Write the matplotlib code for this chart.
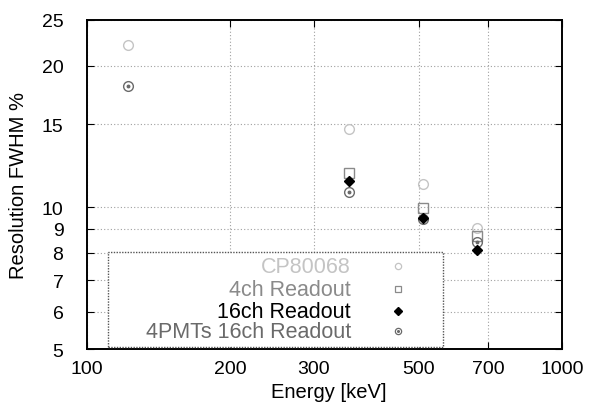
import numpy as np
import matplotlib
matplotlib.use("Agg")
import matplotlib.pyplot as plt
from matplotlib.patches import Rectangle

plt.rcParams['font.family'] = ['Liberation Sans', 'DejaVu Sans']

# Photopeak energies [keV] and measured resolutions [% FWHM]
energy_cp = [122, 356, 511, 662]
res_cp = [22.1, 14.7, 11.2, 9.05]

energy_4ch = [356, 511, 662]
res_4ch = [11.8, 9.95, 8.7]

energy_16ch = [356, 511, 662]
res_16ch = [11.4, 9.5, 8.1]

energy_4pmt = [122, 356, 511, 662]
res_4pmt = [18.1, 10.8, 9.45, 8.43]

series_labels = ["CP80068", "4ch Readout", "16ch Readout", "4PMTs 16ch Readout"]

x_ticks = [100, 200, 300, 500, 700, 1000]
y_ticks = [5, 6, 7, 8, 9, 10, 15, 20, 25]

col_cp = "#c4c4c4"
col_4ch = "#8a8a8a"
col_16ch = "#000000"
col_4pmt = "#6a6a6a"

fig = plt.figure(figsize=(5.89, 4.10), dpi=100)
ax = fig.add_axes([0.1477, 0.1463, 0.954 - 0.1477, 0.9488 - 0.1463])

ax.set_xscale("log")
ax.set_yscale("log")
ax.set_xlim(100, 1000)
ax.set_ylim(5, 25)

ax.set_xticks(x_ticks)
ax.set_xticklabels([str(t) for t in x_ticks])
ax.set_yticks(y_ticks)
ax.set_yticklabels([str(t) for t in y_ticks])
ax.minorticks_off()
ax.tick_params(direction="in", top=True, right=True, length=5, width=0.8,
               labelsize=14)
ax.tick_params(axis="x", pad=8)
ax.tick_params(axis="y", pad=17)

ax.grid(True, which="major", linestyle=(0, (1, 2)), color="#a0a0a0", linewidth=0.8)
for s in ax.spines.values():
    s.set_linewidth(1.4)

ms = 7
# CP80068: open circles
ax.plot(energy_cp, res_cp, linestyle="none", marker="o", ms=ms,
        mfc="none", mec=col_cp, mew=1.0, zorder=3)
# 4ch readout: open squares
ax.plot(energy_4ch, res_4ch, linestyle="none", marker="s", ms=ms - 0.5,
        mfc="none", mec=col_4ch, mew=1.0, zorder=3)
# 4PMTs 16ch readout: circled dot
ax.plot(energy_4pmt, res_4pmt, linestyle="none", marker="o", ms=ms,
        mfc="none", mec=col_4pmt, mew=1.0, zorder=3)
ax.plot(energy_4pmt, res_4pmt, linestyle="none", marker="o", ms=1.8,
        mfc=col_4pmt, mec=col_4pmt, zorder=3)
# 16ch readout: filled diamonds
ax.plot(energy_16ch, res_16ch, linestyle="none", marker="D", ms=5.5,
        mfc=col_16ch, mec=col_16ch, zorder=4)

ax.set_xlabel("Energy [keV]", fontsize=14.5)
ax.xaxis.set_label_coords(0.51, -0.1)
ax.set_ylabel("Resolution FWHM %", fontsize=14.5)
ax.yaxis.set_label_coords(-0.125, 0.5)

# Key box drawn in axes coordinates, text right-aligned before the symbol
box = Rectangle((0.044, 0.006), 0.705, 0.288, transform=ax.transAxes,
                facecolor="white", edgecolor="#555555", linestyle=(0, (1, 1)),
                linewidth=1.0, zorder=5)
ax.add_patch(box)
rows_y = [0.2515, 0.182, 0.115, 0.0545]
text_cols = [col_cp, col_4ch, col_16ch, col_4pmt]
for lbl, yy, c in zip(series_labels, rows_y, text_cols):
    ax.text(0.556, yy, lbl, transform=ax.transAxes, ha="right", va="center",
            fontsize=15.5, color=c, zorder=6)
kx = 0.655
ax.plot([kx], [rows_y[0]], transform=ax.transAxes, marker="o", ms=4.5,
        mfc="none", mec=col_cp, mew=0.9, zorder=6, clip_on=False)
ax.plot([kx], [rows_y[1]], transform=ax.transAxes, marker="s", ms=4.5,
        mfc="none", mec=col_4ch, mew=0.9, zorder=6, clip_on=False)
ax.plot([kx], [rows_y[2]], transform=ax.transAxes, marker="D", ms=4.2,
        mfc=col_16ch, mec=col_16ch, zorder=6, clip_on=False)
ax.plot([kx], [rows_y[3]], transform=ax.transAxes, marker="o", ms=4.5,
        mfc="none", mec=col_4pmt, mew=0.9, zorder=6, clip_on=False)
ax.plot([kx], [rows_y[3]], transform=ax.transAxes, marker="o", ms=1.2,
        mfc=col_4pmt, mec=col_4pmt, zorder=6, clip_on=False)

fig.savefig("out.png", dpi=100)
